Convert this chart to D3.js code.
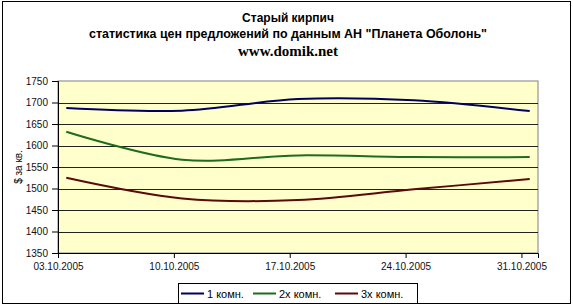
<!DOCTYPE html>
<html>
<head>
<meta charset="utf-8">
<script src="https://cdn.jsdelivr.net/npm/d3@7"></script>
<style>
  body { margin: 0; background: #fff; }
  svg text { font-family: "Liberation Sans", Arial, sans-serif; }
</style>
</head>
<body>
<script>
// data
const dates = ['03.10.2005', '10.10.2005', '17.10.2005', '24.10.2005', '31.10.2005']
const room1 = [1687, 1681, 1708, 1705, 1680]
const room2 = [1632, 1567, 1577, 1573, 1573]
const room3 = [1525, 1477, 1473, 1498, 1522]
const seriesNames = ['1 комн.', '2х комн.', '3х комн.']
const yTicks = [1350, 1400, 1450, 1500, 1550, 1600, 1650, 1700, 1750]

const width = 573
const height = 306
const colors = ['#000060', '#1e6b1e', '#5a0a0a']

const parse = d3.utcParse('%d.%m.%Y')
const fmt = d3.utcFormat('%d.%m.%Y')

let svg = d3.select('body').append('svg').attr('width', width).attr('height', height)

// outer frame
svg.append('rect').attr('x', 2.5).attr('y', 1.5).attr('width', 568).attr('height', 302)
   .attr('fill', '#fff').attr('stroke', '#000')

// titles
svg.append('text').attr('x', 288).attr('y', 22).attr('text-anchor', 'middle')
   .style('font-size', '12px').style('font-weight', 'bold').text('Старый кирпич')
svg.append('text').attr('x', 288).attr('y', 38).attr('text-anchor', 'middle')
   .style('font-size', '12px').style('font-weight', 'bold')
   .attr('textLength', 398).attr('lengthAdjust', 'spacingAndGlyphs')
   .text('статистика цен предложений  по данным АН "Планета Оболонь"')
svg.append('text').attr('x', 288).attr('y', 56).attr('text-anchor', 'middle')
   .style('font-family', '"Liberation Serif", "Times New Roman", serif')
   .style('font-size', '15px').style('font-weight', 'bold').text('www.domik.net')

let x = d3.scaleUtc()
          .domain([parse(dates[0]), d3.utcDay.offset(parse(dates[dates.length - 1]), 1)])
          .range([58, 538])
let y = d3.scaleLinear().domain([1350, 1750]).range([253, 81])

// plot area
svg.append('rect').attr('x', 58).attr('y', 81).attr('width', 480).attr('height', 172)
   .attr('fill', '#ffffcc').attr('stroke', '#808080')

svg.append('g').selectAll('line').data(yTicks.slice(1, -1)).enter().append('line')
   .attr('x1', 58).attr('x2', 538)
   .attr('y1', d => Math.round(y(d)) + 0.5).attr('y2', d => Math.round(y(d)) + 0.5)
   .attr('stroke', '#222')

let xAxis = d3.axisBottom(x).tickValues(dates.map(parse)).tickFormat(fmt).tickSize(5)
let yAxis = d3.axisLeft(y).tickValues(yTicks).tickFormat(d3.format('d')).tickSize(6).tickPadding(4)

let gx = svg.append('g').attr('transform', 'translate(0,253)').call(xAxis)
let gy = svg.append('g').attr('transform', 'translate(58,0)').call(yAxis)
;[gx, gy].forEach(g => {
  g.selectAll('text').style('font-size', '10px').attr('fill', '#111')
  g.selectAll('line,path').attr('stroke', '#000')
})
gx.selectAll('text').attr('dy', '0.9em')

svg.append('text').attr('transform', 'translate(22,167) rotate(-90)').attr('text-anchor', 'middle')
   .style('font-size', '10px').text('$ за кв.')

// series lines, points sit in the middle of each day
let line = d3.line()
             .x((v, i) => x(d3.utcHour.offset(parse(dates[i]), 12)))
             .y(v => y(v))
             .curve(d3.curveCatmullRom.alpha(0))

;[room1, room2, room3].forEach((s, k) => {
  svg.append('path').datum(s).attr('d', line)
     .attr('fill', 'none').attr('stroke', colors[k]).attr('stroke-width', 2)
})

// legend
let legend = svg.append('g').attr('transform', 'translate(178,283)')
legend.append('rect').attr('x', 0.5).attr('y', 0.5).attr('width', 239).attr('height', 20)
      .attr('fill', '#fff').attr('stroke', '#000')
const legX = [3, 75, 157]
seriesNames.forEach((n, k) => {
  legend.append('line').attr('x1', legX[k]).attr('x2', legX[k] + 23).attr('y1', 10.5).attr('y2', 10.5)
        .attr('stroke', colors[k]).attr('stroke-width', 2)
  legend.append('text').attr('x', legX[k] + 26).attr('y', 14.5)
        .style('font-size', '11px').text(n)
})
</script>
</body>
</html>
